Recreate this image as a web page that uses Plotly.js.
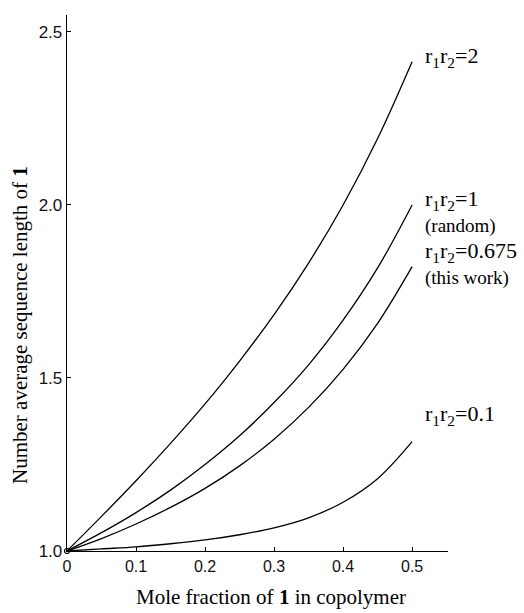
<!DOCTYPE html>
<html>
<head>
<meta charset="utf-8">
<script src="https://cdn.plot.ly/plotly-3.0.1.min.js"></script>
<style>html,body{margin:0;padding:0;background:#fff;}</style>
</head>
<body>
<div id="chart" style="width:524px;height:613px;"></div>
<script>
// Mole fraction of 1 in copolymer
var moleFraction = [0, 0.05, 0.10, 0.15, 0.20, 0.25, 0.30, 0.35, 0.40, 0.45, 0.50];
// Number average sequence length of 1
var seqR2     = [1.000, 1.100, 1.203, 1.311, 1.425, 1.549, 1.683, 1.832, 2.000, 2.192, 2.414];
var seqR1     = [1.000, 1.053, 1.111, 1.176, 1.250, 1.333, 1.429, 1.538, 1.667, 1.818, 2.000];
var seqR0675  = [1.000, 1.036, 1.078, 1.126, 1.181, 1.246, 1.323, 1.415, 1.525, 1.658, 1.822];
var seqR01    = [1.000, 1.006, 1.012, 1.021, 1.032, 1.047, 1.067, 1.096, 1.141, 1.209, 1.316];

var seriesNames = ['r1r2=2', 'r1r2=1', 'r1r2=0.675', 'r1r2=0.1'];
var seriesValues = [seqR2, seqR1, seqR0675, seqR01];

var labelMain = ['r<sub>1</sub>r<sub>2</sub>=2', 'r<sub>1</sub>r<sub>2</sub>=1', 'r<sub>1</sub>r<sub>2</sub>=0.675', 'r<sub>1</sub>r<sub>2</sub>=0.1'];
var labelSub = ['', '(random)', '(this work)', ''];

var xTickVals = [0, 0.1, 0.2, 0.3, 0.4, 0.5];
var xTickText = ['0', '0.1', '0.2', '0.3', '0.4', '0.5'];
var yTickVals = [1.0, 1.5, 2.0, 2.5];
var yTickText = ['1.0', '1.5', '2.0', '2.5'];

var xTitle = 'Mole fraction of <b>1</b> in copolymer';
var yTitle = 'Number average sequence length of <b>1</b>';

var traces = seriesValues.map(function(vals, i){
  return {
    x: moleFraction, y: vals, name: seriesNames[i], type: 'scatter', mode: 'lines',
    line: {color: '#000', width: 1.3, shape: 'spline'},
    hoverinfo: 'skip'
  };
});
traces.push({
  x: [moleFraction[0]], y: [seqR1[0]], type: 'scatter', mode: 'markers',
  marker: {symbol: 'circle-open', size: 5, color: '#000', line: {width: 1.2, color: '#000'}},
  cliponaxis: false, hoverinfo: 'skip'
});

var serif = 'Liberation Serif, Times New Roman, serif';
var sans = 'Liberation Sans, Arial, sans-serif';
var annotations = [];
var lastIdx = moleFraction.length - 1;
var labelShift = [2, 2, 12, 24];
var subShift = [0, -10, -10, 0];
seriesValues.forEach(function(vals, i){
  annotations.push({
    x: moleFraction[lastIdx], y: vals[lastIdx], xref: 'x', yref: 'y',
    text: labelMain[i], showarrow: false, xanchor: 'left', yanchor: 'bottom',
    xshift: 11, yshift: -13 + labelShift[i],
    font: {family: serif, size: 22, color: '#000'}
  });
  if (labelSub[i]) {
    annotations.push({
      x: moleFraction[lastIdx], y: vals[lastIdx], xref: 'x', yref: 'y',
      text: labelSub[i], showarrow: false, xanchor: 'left', yanchor: 'top',
      xshift: 11, yshift: subShift[i] + labelShift[i],
      font: {family: serif, size: 19, color: '#000'}
    });
  }
});
// axis titles (positions given in pixels, converted below)
annotations.push({
  x: 271, y: 597, xref: 'paper', yref: 'paper', text: xTitle, showarrow: false,
  font: {family: serif, size: 21, color: '#000'}
});
annotations.push({
  x: 20, y: 325, xref: 'paper', yref: 'paper', text: yTitle, showarrow: false, textangle: -90,
  font: {family: serif, size: 21, color: '#000'}
});
var L = 67, R = 76, T = 15, B = 62, W = 524, H = 613;
annotations.slice(-2).forEach(function(a){
  a.x = (a.x - L) / (W - L - R);
  a.y = (H - B - a.y) / (H - T - B);
  a.xanchor = 'center'; a.yanchor = 'middle';
});

var layout = {
  width: W, height: H,
  margin: {l: L, r: R, t: T, b: B},
  paper_bgcolor: '#fff', plot_bgcolor: '#fff',
  showlegend: false,
  xaxis: {
    range: [0, 0.552],
    tickvals: xTickVals, ticktext: xTickText,
    ticks: 'inside', ticklen: 4, tickwidth: 1, tickcolor: '#000',
    showline: true, linecolor: '#000', linewidth: 1.3,
    showgrid: false, zeroline: false,
    tickfont: {family: sans, size: 16, color: '#111'}
  },
  yaxis: {
    range: [1, 2.549],
    tickvals: yTickVals, ticktext: yTickText,
    ticks: 'inside', ticklen: 4, tickwidth: 1, tickcolor: '#000',
    showline: true, linecolor: '#000', linewidth: 1.3,
    showgrid: false, zeroline: false,
    tickfont: {family: sans, size: 17, color: '#111'}
  },
  annotations: annotations
};

Plotly.newPlot('chart', traces, layout, {displayModeBar: false, staticPlot: true});
</script>
</body>
</html>
